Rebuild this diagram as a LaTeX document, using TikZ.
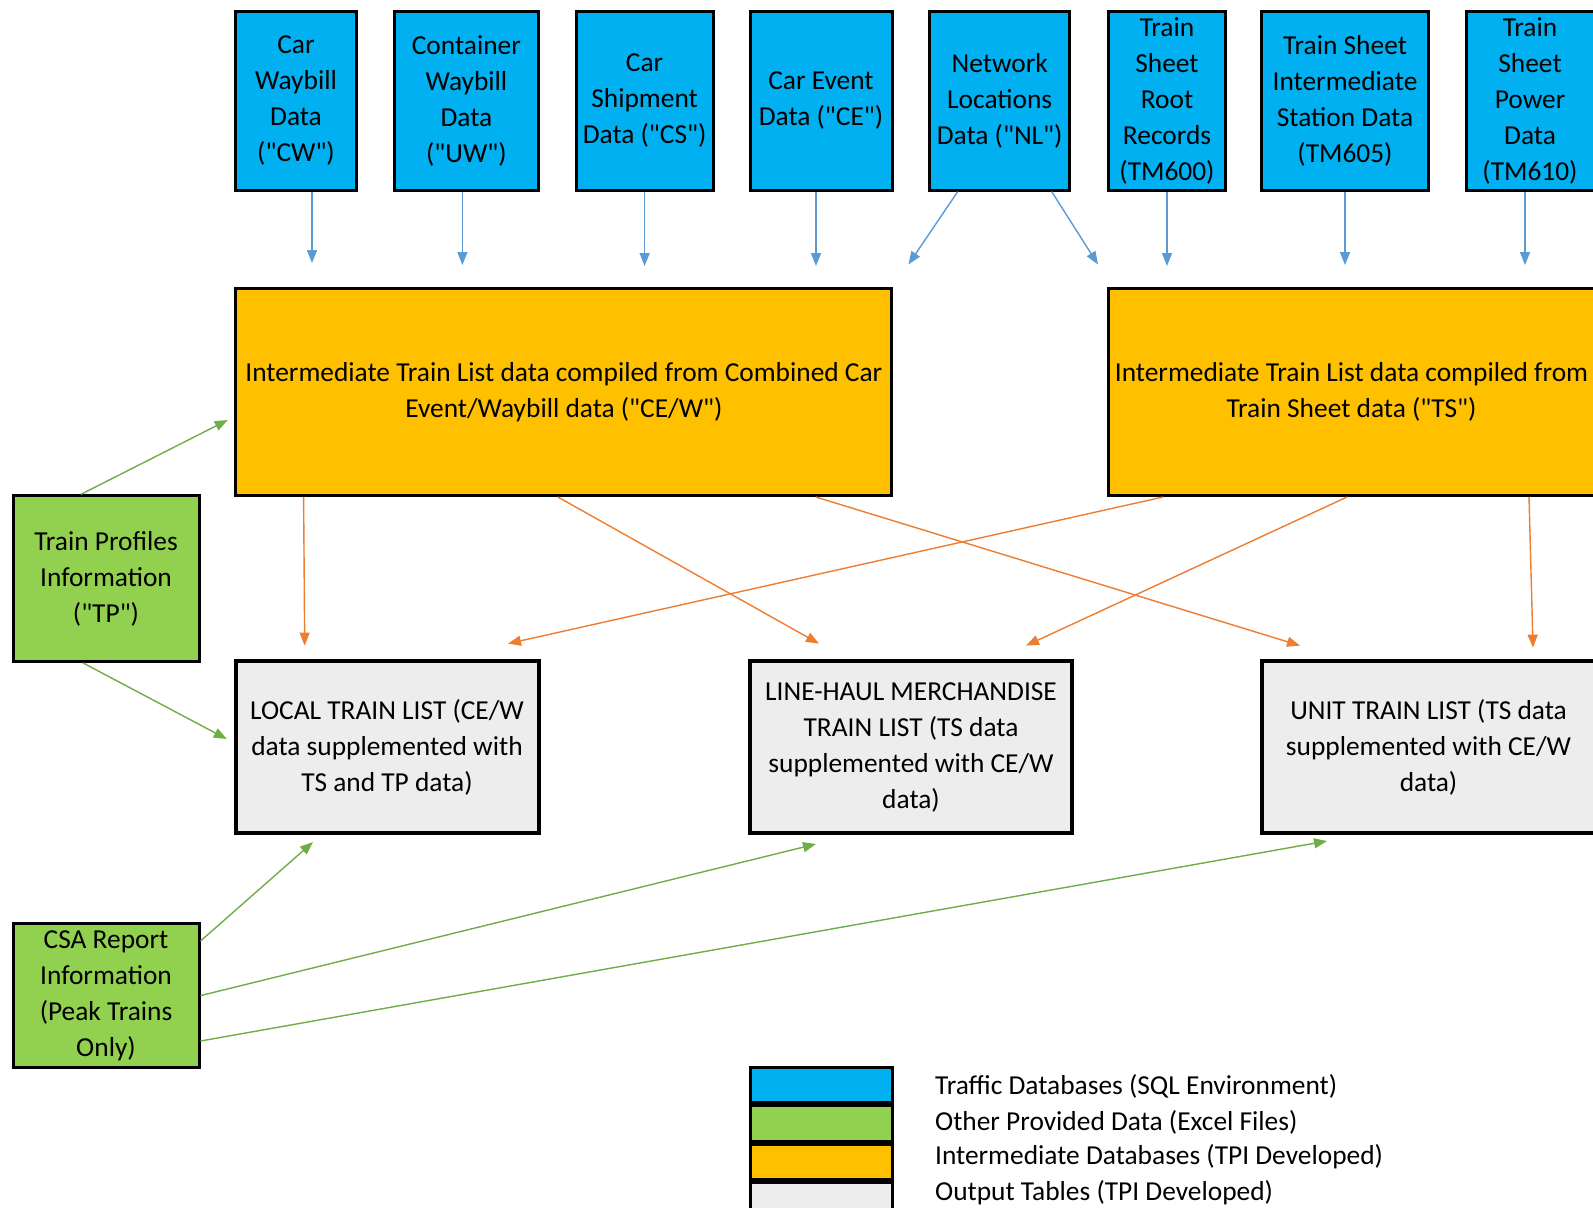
\documentclass[tikz,border=0pt]{standalone}
\usepackage{fontspec}
\setmainfont{Carlito}[Ligatures=TeXOff]
\usepackage{tikz}
\usetikzlibrary{arrows.meta, positioning, calc}
\definecolor{trafficblue}{HTML}{00B0F0}
\definecolor{providedgreen}{HTML}{92D050}
\definecolor{interorange}{HTML}{FFC000}
\definecolor{outputgrey}{HTML}{EDEDED}
\definecolor{bluearrow}{HTML}{5B9BD5}
\definecolor{orangearrow}{HTML}{ED7D31}
\definecolor{greenarrow}{HTML}{70AD47}

\begin{document}
\begin{tikzpicture}[x=0.5pt, y=-0.5pt, >={Triangle[length=6.5pt,width=5pt]},
  box/.style={draw=black, line width=1.5pt, align=center, inner sep=0pt,
    font=\fontsize{13.7}{18}\selectfont},
  traffic/.style={box, fill=trafficblue, minimum height=89.5pt},
  provided/.style={box, fill=providedgreen, minimum width=93pt},
  inter/.style={box, fill=interorange, minimum height=103.5pt},
  output/.style={box, fill=outputgrey, line width=2pt, minimum height=86pt},
  legbox/.style={draw=black, line width=1.5pt, minimum width=71pt, minimum height=17.75pt},
  legtext/.style={anchor=west, inner sep=0pt, font=\fontsize{13.7}{18}\selectfont},
  bluelink/.style={->, draw=bluearrow, fill=bluearrow, line width=0.7pt},
  orangelink/.style={->, draw=orangearrow, fill=orangearrow, line width=0.7pt},
  greenlink/.style={->, draw=greenarrow, fill=greenarrow, line width=0.7pt}]
\useasboundingbox (0,0) rectangle (1593,1207);

% traffic databases
\node[traffic, minimum width=60.5pt] (CW) at (296,100.6) {Car\\Waybill\\Data\\("CW")};
\node[traffic, minimum width=72pt] (UW) at (466.4,100.6) {Container\\Waybill\\Data\\("UW")};
\node[traffic, minimum width=68.5pt] (CS) at (644.6,100.6) {Car\\Shipment\\Data ("CS")};
\node[traffic, minimum width=71pt] (CE) at (821,100.6) {Car Event\\Data ("CE")};
\node[traffic, minimum width=70pt] (NL) at (999.7,100.6) {Network\\Locations\\Data ("NL")};
\node[traffic, minimum width=58.5pt] (TSR) at (1167,100.6) {Train\\Sheet\\Root\\Records\\(TM600)};
\node[traffic, minimum width=83.5pt] (TSI) at (1345,100.6) {Train Sheet\\Intermediate\\Station Data\\(TM605)};
\node[traffic, minimum width=64pt] (TSP) at (1530,100.6) {Train\\Sheet\\Power\\Data\\(TM610)};

% intermediate databases
\node[inter, minimum width=328pt] (ITL) at (563.9,392) {Intermediate Train List data compiled from Combined Car\\Event/Waybill data ("CE/W")};
\node[inter, minimum width=243.5pt] (ITR) at (1351.5,392) {Intermediate Train List data compiled from\\Train Sheet data ("TS")};

% output tables
\node[output, minimum width=151.5pt] (LOC) at (387,747) {LOCAL TRAIN LIST (CE/W\\data supplemented with\\TS and TP data)};
\node[output, minimum width=161pt] (LH) at (911,747) {LINE-HAUL MERCHANDISE\\TRAIN LIST (TS data\\supplemented with CE/W\\data)};
\node[output, minimum width=166.5pt] (UT) at (1428.5,747) {UNIT TRAIN LIST (TS data\\supplemented with CE/W\\data)};

% other provided data
\node[provided, minimum height=82.8pt] (TP) at (106,578.6) {Train Profiles\\Information\\("TP")};
\node[provided, minimum height=72pt] (CSA) at (106,995.6) {CSA Report\\Information\\(Peak Trains\\Only)};

% legend
\node[legbox, fill=trafficblue] (LGB) at (821,1085) {};
\node[legbox, fill=providedgreen, below=0pt of LGB] (LGG) {};
\node[legbox, fill=interorange, below=0pt of LGG] (LGO) {};
\node[legbox, fill=outputgrey, below=0pt of LGO] (LGW) {};
\node[legtext] (LTB) at (934.7,1086) {Traffic Databases (SQL Environment)};
\node[legtext] (LTG) at (934.7,1122) {Other Provided Data (Excel Files)};
\node[legtext] (LTO) at (934.7,1157) {Intermediate Databases (TPI Developed)};
\node[legtext] (LTW) at (934.7,1193) {Output Tables (TPI Developed)};

% traffic -> intermediate
\draw[bluelink, shorten >=12pt] ([xshift=8pt]CW.south) -- ([xshift=8pt]CW.south |- ITL.north);
\draw[bluelink, shorten >=11pt] ([xshift=-2pt]UW.south) -- ([xshift=-2pt]UW.south |- ITL.north);
\draw[bluelink, shorten >=10.5pt] (CS.south) -- (CS.south |- ITL.north);
\draw[bluelink, shorten >=10.5pt] ([xshift=-2.5pt]CE.south) -- ([xshift=-2.5pt]CE.south |- ITL.north);
\draw[bluelink] ([xshift=-21pt]NL.south) -- ([xshift=7.5pt, yshift=11.25pt]ITL.north east);
\draw[bluelink] ([xshift=26pt]NL.south) -- ([xshift=-4.25pt, yshift=11.25pt]ITR.north west);
\draw[bluelink, shorten >=10.5pt] (TSR.south) -- (TSR.south |- ITR.north);
\draw[bluelink, shorten >=11pt] (TSI.south) -- (TSI.south |- ITR.north);
\draw[bluelink, shorten >=11pt] ([xshift=-2.5pt]TSP.south) -- ([xshift=-2.5pt]TSP.south |- ITR.north);

% intermediate -> output
\draw[orangelink] ([xshift=34.6pt]ITL.south west) -- ([xshift=35.6pt, yshift=6.7pt]LOC.north west);
\draw[orangelink] ([xshift=-3pt]ITL.south) -- ([xshift=-46pt, yshift=7.7pt]LH.north);
\draw[orangelink] ([xshift=126pt]ITL.south) -- ([xshift=-64.25pt, yshift=6.7pt]UT.north);
\draw[orangelink] ([xshift=-94.25pt]ITR.south) -- ([xshift=60.5pt, yshift=7.7pt]LOC.north);
\draw[orangelink] ([xshift=-2.25pt]ITR.south) -- ([xshift=57.5pt, yshift=6.7pt]LH.north);
\draw[orangelink] ([xshift=88.75pt]ITR.south) -- ([xshift=52.25pt, yshift=5.7pt]UT.north);

% provided data
\draw[greenlink] ([xshift=-12.5pt]TP.north) -- ([xshift=-3.35pt, yshift=-14pt]ITL.west);
\draw[greenlink] ([xshift=-11.5pt]TP.south) -- ([xshift=-3.35pt, yshift=4pt]LOC.west);
\draw[greenlink] ([yshift=27.3pt]CSA.east) -- ([xshift=-37pt, yshift=-3.5pt]LOC.south);
\draw[greenlink] (CSA.east) -- ([xshift=-47.5pt, yshift=-4.5pt]LH.south);
\draw[greenlink] ([yshift=-22.7pt]CSA.east) -- ([xshift=-50.75pt, yshift=-3pt]UT.south);
\end{tikzpicture}
\end{document}
